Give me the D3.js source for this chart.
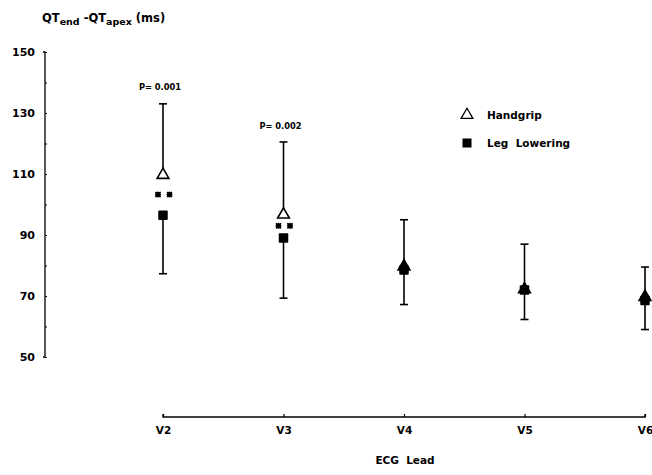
<!DOCTYPE html>
<html><head><meta charset="utf-8">
<script src="https://cdn.jsdelivr.net/npm/d3@7"></script>
<style>body{margin:0;background:#fff}svg{display:block}text{font-family:"DejaVu Sans",sans-serif;font-weight:bold;fill:#000}</style>
</head><body>
<svg id="c" width="652" height="475"></svg>
<script>
const leads = ["V2","V3","V4","V5","V6"];
const handgripMean = [110, 97, 80, 72.5, 70];
const handgripSD   = [23, 23.5, 15, 14.5, 9.5];
const legMean      = [96.5, 89, 78.5, 72, 68.5];
const legSD        = [19.2, 19.7, 11.3, 9.7, 9.5];
const yTickLabels  = [50, 70, 90, 110, 130, 150];
const pLabels      = [{lead:"V2", text:"P= 0.001", value:134}, {lead:"V3", text:"P= 0.002", value:121}];
const sigLeads     = ["V2","V3"];

const svg = d3.select("#c");
const x = d3.scalePoint().domain(leads).range([163, 645]);
const y = d3.scaleLinear().domain([50,150]).range([357, 52]);

// Y axis
const yAxis = d3.axisLeft(y).tickValues(d3.range(50,151,10)).tickSize(-2).tickFormat(d => yTickLabels.includes(d) ? d : "");
const gy = svg.append("g").attr("transform","translate(45,0)").call(yAxis);
gy.select(".domain").attr("stroke","#000").attr("stroke-width",1.3).attr("d","M-2,52H0V357H-2");
gy.selectAll(".tick line").attr("stroke","#000").attr("stroke-width",1.2);
gy.selectAll(".tick text").attr("x",-10).attr("font-size",11).style("font-family","DejaVu Sans").style("font-weight","bold");

// X axis
const xAxis = d3.axisBottom(x).tickSize(-3).tickPadding(10);
const gx = svg.append("g").attr("transform","translate(0,417)").call(xAxis);
gx.select(".domain").attr("stroke","#000").attr("stroke-width",1.3).attr("d","M163,-3V0H645V-3");
gx.selectAll(".tick line").attr("stroke","#000").attr("stroke-width",1.2);
gx.selectAll(".tick text").attr("font-size",10.5).style("font-family","DejaVu Sans").style("font-weight","bold");

svg.append("text").attr("x",405).attr("y",464).attr("text-anchor","middle").attr("font-size",10.5).attr("xml:space","preserve").text("ECG  Lead");

// Y title
const t = svg.append("text").attr("x",42).attr("y",22).attr("font-size",11.5);
t.append("tspan").text("QT");
t.append("tspan").attr("font-size",9.5).attr("dy",3).text("end");
t.append("tspan").attr("dy",-3).text(" -QT");
t.append("tspan").attr("font-size",9.5).attr("dy",3).text("apex");
t.append("tspan").attr("dy",-3).text(" (ms)");

const data = leads.map((l,i)=>({l, hm:handgripMean[i], hs:handgripSD[i], lm:legMean[i], ls:legSD[i]}));
const cap = 4;
// Error bars
const eb = svg.append("g").attr("stroke","#000").attr("stroke-width",1.6);
data.forEach(d=>{
  const cx = x(d.l);
  eb.append("line").attr("x1",cx).attr("x2",cx).attr("y1",y(d.hm)).attr("y2",y(d.hm+d.hs));
  eb.append("line").attr("x1",cx-cap).attr("x2",cx+cap).attr("y1",y(d.hm+d.hs)).attr("y2",y(d.hm+d.hs));
  eb.append("line").attr("x1",cx).attr("x2",cx).attr("y1",y(d.lm)).attr("y2",y(d.lm-d.ls));
  eb.append("line").attr("x1",cx-cap).attr("x2",cx+cap).attr("y1",y(d.lm-d.ls)).attr("y2",y(d.lm-d.ls));
});
// Squares (leg lowering)
const sq = 9.5;
svg.append("g").selectAll("rect").data(data).join("rect")
  .attr("x",d=>x(d.l)-sq/2).attr("y",d=>y(d.lm)-sq/2).attr("width",sq).attr("height",sq).attr("rx",1).attr("fill","#000");
// Triangles (handgrip): open where separated, filled where overlapping
const tri = d3.symbol().type(d3.symbolTriangle).size(60);
svg.append("g").selectAll("path").data(data).join("path")
  .attr("d",tri).attr("transform",d=>`translate(${x(d.l)},${y(d.hm)+1})`)
  .attr("fill",d=> Math.abs(d.hm-d.lm)>5 ? "#fff" : "#000").attr("stroke","#000").attr("stroke-width",1.6);

// significance asterisks
const star = "M-2.6,-2.6L2.6,2.6M2.6,-2.6L-2.6,2.6M0,-3V3M-3,0H3";
sigLeads.forEach(l=>{
  const d = data.find(e=>e.l===l);
  const cy = y((d.hm+d.lm)/2);
  [-5,6.5].forEach(o=>{
    svg.append("rect").attr("x",x(l)+o-2.5).attr("y",cy-2.5).attr("width",5).attr("height",5).attr("fill","#000");
    svg.append("path").attr("d",star).attr("transform",`translate(${x(l)+o},${cy})`).attr("stroke","#000").attr("stroke-width",1.2);
  });
});

// P labels
pLabels.forEach(p=>{
  svg.append("text").attr("x",x(p.lead)-3).attr("y",y(p.value)-11).attr("text-anchor","middle").attr("font-size",8.3).text(p.text);
});

// Legend
const lg = svg.append("g").attr("transform","translate(467,0)");
lg.append("path").attr("d",tri).attr("transform","translate(0,115)").attr("fill","#fff").attr("stroke","#000").attr("stroke-width",1.3);
lg.append("rect").attr("x",-4.5).attr("y",138.5).attr("width",9).attr("height",9).attr("fill","#000");
lg.append("text").attr("x",20).attr("y",119).attr("font-size",10.5).text("Handgrip");
lg.append("text").attr("x",20).attr("y",147).attr("font-size",10.5).attr("xml:space","preserve").text("Leg  Lowering");
</script>
</body></html>
